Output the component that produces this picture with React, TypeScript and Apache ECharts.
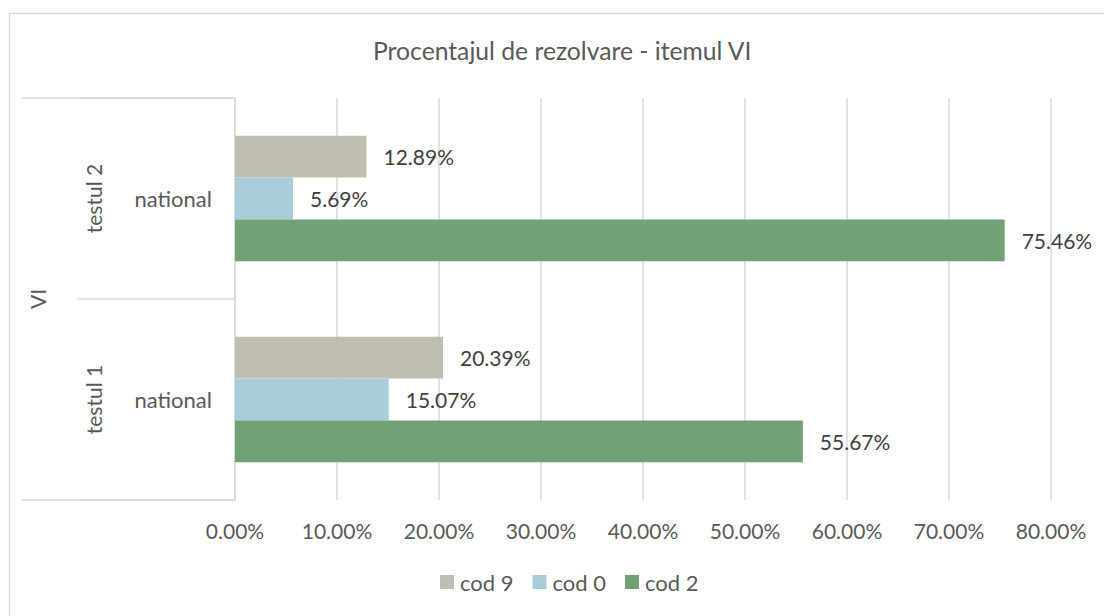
import React, { useEffect, useRef } from "react";
import * as echarts from "echarts";

const titleText = "Procentajul de rezolvare - itemul VI";
const item = ["VI"];
const tests = ["testul 1", "testul 2"];
const scope = ["national", "national"];
const seriesNames = ["cod 9", "cod 0", "cod 2"];
const cod9 = [20.39, 12.89];
const cod0 = [15.07, 5.69];
const cod2 = [55.67, 75.46];
const colors = ["#c0beb0", "#a9cdd7", "#70a275"];
const xTicks = { min: 0, max: 80, interval: 10 };

const FONT = "Lato";

export default function App() {
  const ref = useRef<HTMLDivElement>(null);
  useEffect(() => {
    const chart = echarts.init(ref.current!, null, { renderer: "svg" });
    const seriesData = [cod9, cod0, cod2];
    const gridColor = "#d9d9d9";
    chart.setOption({
      animation: false,
      textStyle: { fontFamily: FONT },
      title: {
        text: titleText,
        left: 368,
        top: 33,
        textStyle: { fontSize: 24.7, fontWeight: "normal", color: "#595959", fontFamily: FONT },
      },
      legend: {
        data: seriesNames,
        bottom: 18,
        left: 435,
        itemWidth: 14,
        itemHeight: 14,
        itemGap: 19,
        icon: "rect",
        textStyle: { fontSize: 22, color: "#595959", fontFamily: FONT, padding: [0, 0, 0, 1] },
      },
      grid: { left: 235, right: 53, top: 98, bottom: 116, containLabel: false },
      xAxis: {
        type: "value",
        min: xTicks.min,
        max: xTicks.max,
        interval: xTicks.interval,
        axisLine: { show: false },
        axisTick: { show: false },
        splitLine: { lineStyle: { color: gridColor, width: 1.5 } },
        axisLabel: {
          formatter: (v: number) => v.toFixed(2) + "%",
          fontSize: 21,
          color: "#595959",
          margin: 20,
          fontFamily: FONT,
        },
      },
      yAxis: [
        {
          type: "category",
          data: tests,
          position: "left",
          axisLine: { show: true, lineStyle: { color: gridColor, width: 1.5 } },
          axisTick: { show: true, length: 158, lineStyle: { color: gridColor, width: 1.5 } },
          axisLabel: {
            formatter: (_v: string, i: number) => scope[i],
            fontSize: 22,
            color: "#595959",
            margin: 23,
            fontFamily: FONT,
          },
        },
        {
          type: "category",
          data: tests,
          position: "left",
          axisLine: { show: false },
          axisTick: { show: false },
          axisLabel: {
            rotate: 90,
            fontSize: 21,
            color: "#595959",
            margin: 131,
            fontFamily: FONT,
          },
        },
        {
          type: "category",
          data: item,
          position: "left",
          axisLine: { show: false },
          axisTick: { show: true, length: 213, lineStyle: { color: gridColor, width: 1.5 } },
          axisLabel: {
            rotate: 90,
            fontSize: 21,
            color: "#595959",
            margin: 187,
            fontFamily: FONT,
          },
        },
      ],
      graphic: [
        {
          type: "rect",
          shape: { x: 9.5, y: 13.5, width: 1110, height: 620 },
          style: { fill: "none", stroke: gridColor, lineWidth: 1.5 },
          silent: true,
        },
      ],
      series: seriesNames.map((name, i) => ({
        name,
        type: "bar",
        yAxisIndex: 0,
        data: seriesData[i],
        barGap: "0%",
        barCategoryGap: "37.5%",
        itemStyle: { color: colors[i] },
        label: {
          show: true,
          position: "right",
          distance: 17,
          formatter: (p: any) => p.value.toFixed(2) + "%",
          fontSize: 21,
          color: "#404040",
          fontFamily: FONT,
        },
      })),
    });
    return () => chart.dispose();
  }, []);
  return (
    <div
      ref={ref}
      style={{ position: "fixed", left: 0, top: 0, width: 1104, height: 616, background: "#fff" }}
    />
  );
}
